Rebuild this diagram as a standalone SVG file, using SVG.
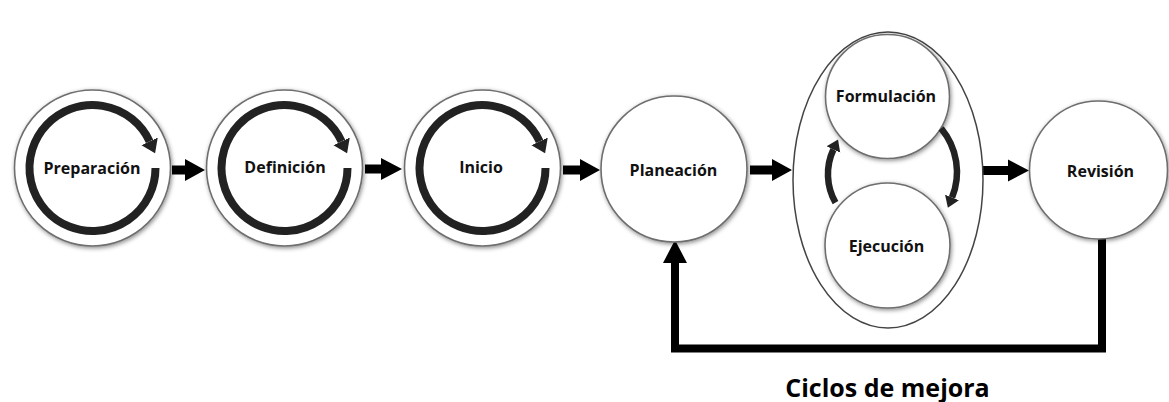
<svg xmlns="http://www.w3.org/2000/svg" width="1169" height="402" viewBox="0 0 1169 402">
  <style>
    .node { fill: #ffffff; stroke: #6e6e6e; stroke-width: 1.6; filter: url(#soft); }
    .group { fill: #ffffff; stroke: #444444; stroke-width: 1.5; }
    .ring { fill: none; stroke: #222222; stroke-width: 8; marker-end: url(#ringHead); }
    .swap { fill: none; stroke: #222222; stroke-width: 6.5; marker-end: url(#swapHead); }
    .label { font-family: "Open Sans", "Liberation Sans", sans-serif; font-weight: bold; font-size: 16px; fill: #111111; text-anchor: middle; }
    .caption { font-family: "Open Sans", "Liberation Sans", sans-serif; font-weight: bold; font-size: 25px; fill: #000000; text-anchor: middle; }
    .flow { fill: #000000; }
    .loop { fill: none; stroke: #000000; stroke-width: 8; stroke-linejoin: miter; }
  </style>
  <defs>
    <filter id="soft" x="-20%" y="-20%" width="140%" height="140%">
      <feDropShadow dx="1" dy="1.5" stdDeviation="2" flood-color="#000000" flood-opacity="0.45"/>
    </filter>
    <marker id="ringHead" viewBox="0 -10 14 20" refX="0" refY="0" markerWidth="14" markerHeight="20" markerUnits="userSpaceOnUse" orient="auto">
      <path d="M0,-9 L13,0 L0,9 Z" fill="#222222"/>
    </marker>
    <marker id="swapHead" viewBox="0 -8 12 16" refX="0" refY="0" markerWidth="12" markerHeight="16" markerUnits="userSpaceOnUse" orient="auto">
      <path d="M0,-7.5 L11,0 L0,7.5 Z" fill="#222222"/>
    </marker>
  </defs>

  <!-- connectors: block arrows (shaft + head) and the improvement loop -->
  <g id="connectors">
    <path class="flow" d="M172,165.5 L185,165.5 L185,159 L205,170 L185,181 L185,174.5 L172,174.5 Z"/>
    <path class="flow" d="M365,164.5 L381,164.5 L381,158 L402,169 L381,180 L381,173.5 L365,173.5 Z"/>
    <path class="flow" d="M563,165.5 L580,165.5 L580,159 L600,170 L580,181 L580,174.5 L563,174.5 Z"/>
    <path class="flow" d="M750,165.5 L772,165.5 L772,159 L792,170 L772,181 L772,174.5 L750,174.5 Z"/>
    <path class="flow" d="M982,166 L1008,166 L1008,159.5 L1029,170.5 L1008,181.5 L1008,175 L982,175 Z"/>
    <!-- improvement loop from Revisión back to Planeación -->
    <path class="loop" d="M1102,238 L1102,348.5 L675,348.5 L675,261"/>
    <path class="flow" d="M663,263 L675,240 L687,263 Z"/>
  </g>

  <g id="node-preparacion">
    <circle class="node" cx="92.5" cy="168" r="78"/>
    <path class="ring" d="M155.5,168 A63,63 0 1 1 149.6,141.4"/>
    <text class="label" x="92" y="174">Preparación</text>
  </g>

  <g id="node-definicion">
    <circle class="node" cx="284.5" cy="168" r="78"/>
    <path class="ring" d="M347.5,168 A63,63 0 1 1 341.6,141.4"/>
    <text class="label" x="285" y="173">Definición</text>
  </g>

  <g id="node-inicio">
    <circle class="node" cx="482.5" cy="168" r="78"/>
    <path class="ring" d="M545.5,168 A63,63 0 1 1 539.6,141.4"/>
    <text class="label" x="481" y="173">Inicio</text>
  </g>

  <g id="node-planeacion">
    <circle class="node" cx="674" cy="169" r="73"/>
    <text class="label" x="673.5" y="175.5">Planeación</text>
  </g>

  <g id="node-ciclo">
    <ellipse class="group" cx="888" cy="180" rx="95" ry="148"/>
    <g id="node-formulacion">
      <circle class="node" cx="887.5" cy="96.5" r="62"/>
      <text class="label" x="886" y="102">Formulación</text>
    </g>
    <g id="node-ejecucion">
      <circle class="node" cx="887.5" cy="245.5" r="62.5"/>
      <text class="label" x="886.5" y="252">Ejecución</text>
    </g>
    <!-- alternation between formulation and execution -->
    <path class="swap" d="M941.1,128.3 A68,68 0 0 1 952,197.5"/>
    <path class="swap" d="M835.5,202.7 A58,58 0 0 1 833.4,149.5"/>
  </g>

  <g id="node-revision">
    <circle class="node" cx="1098.5" cy="170" r="69"/>
    <text class="label" x="1100.5" y="177">Revisión</text>
  </g>

  <text class="caption" x="887.5" y="397">Ciclos de mejora</text>
</svg>
